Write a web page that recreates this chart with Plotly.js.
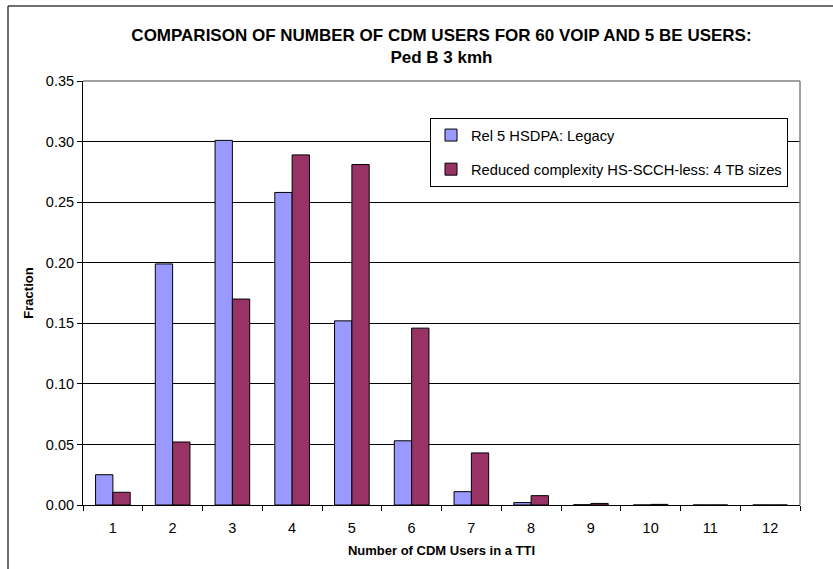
<!DOCTYPE html>
<html>
<head>
<meta charset="utf-8">
<script src="https://cdn.plot.ly/plotly-3.0.1.min.js"></script>
<style>
html,body{margin:0;padding:0;background:#fff;overflow:hidden;}
#chart{width:833px;height:569px;}
</style>
</head>
<body>
<div id="chart"></div>
<script>
var categories = ['1','2','3','4','5','6','7','8','9','10','11','12'];
var legacyValues = [0.025, 0.199, 0.301, 0.258, 0.152, 0.053, 0.011, 0.002, 0.0002, 0.0, 0.0, 0.0];
var reducedValues = [0.0105, 0.052, 0.170, 0.289, 0.281, 0.146, 0.043, 0.0077, 0.0013, 0.0005, 0.0, 0.0];
var seriesNames = ['Rel 5 HSDPA: Legacy', 'Reduced complexity HS-SCCH-less: 4 TB sizes'];
var yTicks = [0, 0.05, 0.10, 0.15, 0.20, 0.25, 0.30, 0.35];

var fontFam = 'Arial, "Liberation Sans", sans-serif';
var L = 83, R = 800, T = 81, B = 505, W = 833, H = 569;
var pw = R - L, ph = B - T;

var traces = [
  {type:'bar', x:categories, y:legacyValues, name:seriesNames[0], legendgroup:'a',
   marker:{color:'#9999FF', line:{color:'#000000', width:1}}},
  {type:'bar', x:categories, y:reducedValues, name:seriesNames[1], legendgroup:'b',
   marker:{color:'#993366', line:{color:'#000000', width:1}}}
];

var layout = {
  width:W, height:H,
  margin:{l:L, r:W-R, t:T, b:H-B, pad:0},
  paper_bgcolor:'#ffffff', plot_bgcolor:'#ffffff',
  font:{family:fontFam, size:14.5, color:'#000000'},
  title:{text:'<b>COMPARISON OF NUMBER OF CDM USERS FOR 60 VOIP AND 5 BE USERS:</b><br><b>Ped B 3 kmh</b>',
         font:{family:fontFam, size:17, color:'#000'}, x:0.5, xref:'paper', xanchor:'center',
         y:1-41/H, yref:'container', yanchor:'middle'},
  barmode:'group', bargap:0.42, bargroupgap:0,
  xaxis:{type:'category', categoryorder:'array', categoryarray:categories,
         tickson:'boundaries', ticks:'outside', ticklen:5, tickcolor:'#000', ticklabelstandoff:10,
         showline:true, linecolor:'#000', linewidth:1, showgrid:false,
         tickfont:{size:14.5}, fixedrange:true, automargin:false,
         title:{text:'<b>Number of CDM Users in a TTI</b>', font:{size:13}, standoff:10}},
  yaxis:{range:[0,0.35], tickvals:yTicks, tickformat:'.2f', ticks:'outside', ticklen:5, tickcolor:'#000',
         showline:true, linecolor:'#000', linewidth:1, showgrid:true, gridcolor:'#000', gridwidth:1,
         zeroline:false, tickfont:{size:14.5}, fixedrange:true, automargin:false,
         title:{text:'<b>Fraction</b>', font:{size:13}, standoff:9}},
  legend:{x:(609-L)/pw, y:(B-118)/ph, xanchor:'center', yanchor:'top', bgcolor:'#ffffff', bordercolor:'#000', borderwidth:1,
          font:{size:14.7}, traceorder:'grouped', tracegroupgap:12, itemwidth:30},
  shapes:[
    {type:'line', xref:'paper', yref:'paper', x0:0, x1:1, y0:1, y1:1, line:{color:'#808080', width:1.5}, layer:'above'},
    {type:'line', xref:'paper', yref:'paper', x0:1, x1:1, y0:0, y1:1, line:{color:'#808080', width:1.5}, layer:'above'},
    {type:'line', xref:'paper', yref:'paper', x0:(8-L)/pw, x1:(8-L)/pw, y0:-0.3, y1:1+(T-6)/ph, line:{color:'#404040', width:1.5}},
    {type:'line', xref:'paper', yref:'paper', x0:(8-L)/pw, x1:1.2, y0:1+(T-6)/ph, y1:1+(T-6)/ph, line:{color:'#404040', width:1.5}}
  ],
  showlegend:true
};

Plotly.newPlot('chart', traces, layout, {displayModeBar:false, staticPlot:true});
</script>
</body>
</html>
